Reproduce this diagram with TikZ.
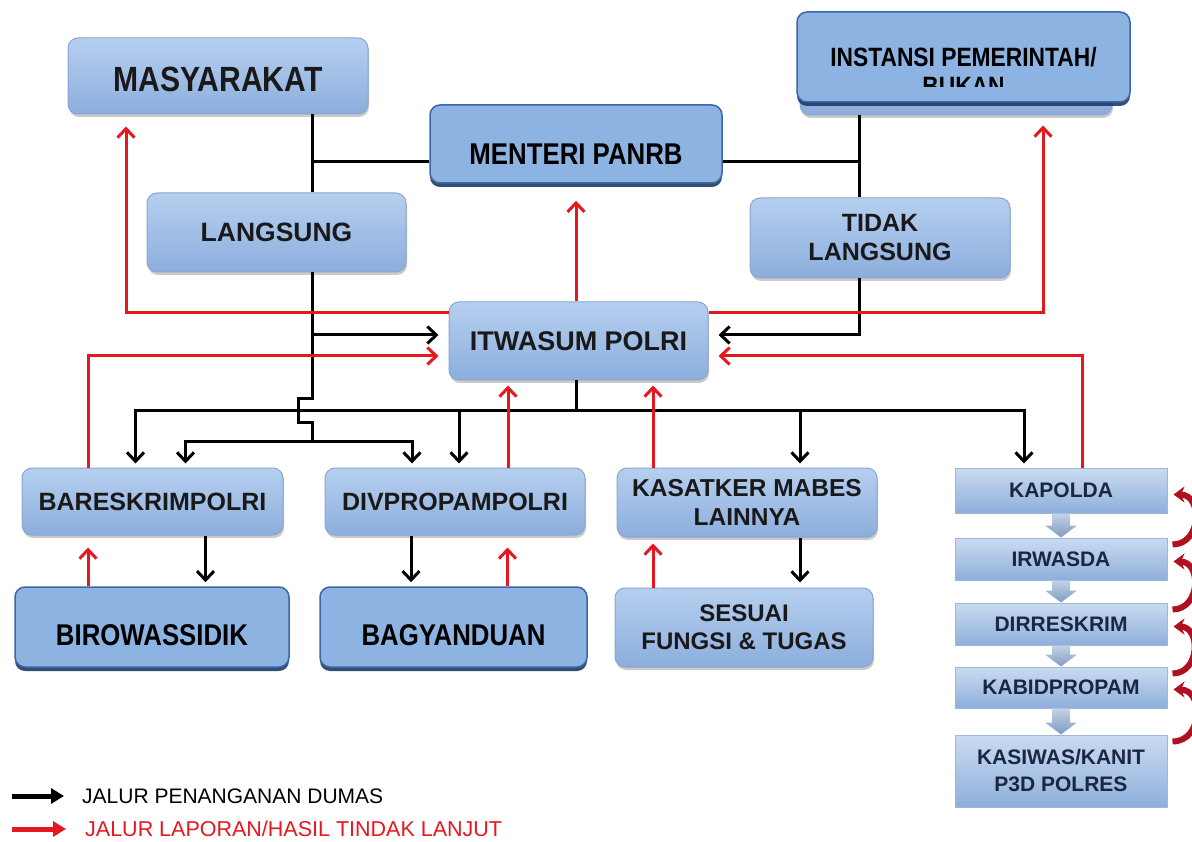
\documentclass[tikz,border=0pt]{standalone}
\usepackage{fontspec}
\setmainfont{Liberation Sans}
\newfontfamily\narrowfont[FakeStretch=0.86]{Liberation Sans}
\usetikzlibrary{arrows.meta,shapes,positioning,calc,shadows}

\definecolor{bevtop}{HTML}{B6CFEF}
\definecolor{bevbot}{HTML}{8CAEDD}
\definecolor{bevedge}{HTML}{8AA6CF}
\definecolor{narfill}{HTML}{8DB3E2}
\definecolor{naredge}{HTML}{3A67A6}
\definecolor{narshadow}{HTML}{1E3A64}
\definecolor{coltop}{HTML}{CADBF1}
\definecolor{colbot}{HTML}{8EAFDB}
\definecolor{coledge}{HTML}{9FB7D8}
\definecolor{coltext}{HTML}{1A2740}
\definecolor{blocktop}{HTML}{C3D2E6}
\definecolor{blockbot}{HTML}{7F9BC2}
\definecolor{lred}{HTML}{E5171F}
\definecolor{dred}{HTML}{B01020}

\begin{document}
\begin{tikzpicture}[x=1pt, y=-1pt, >={Straight Barb[length=9pt,width=17pt]},
  every text node part/.style={align=center},
  bevel/.style={rectangle, rounded corners=10pt, top color=bevtop, bottom color=bevbot, draw=bevedge, line width=1pt, inner sep=0pt, text=black!90, font=\bfseries\fontsize{25}{29}\selectfont, drop shadow={shadow xshift=1pt, shadow yshift=-3pt, opacity=.35, fill=black!60}},
  narrow/.style={rectangle, rounded corners=10pt, fill=narfill, draw=naredge, line width=1.5pt, inner sep=0pt, text depth=0pt, font=\narrowfont\bfseries\fontsize{30}{34}\selectfont, drop shadow={shadow xshift=0pt, shadow yshift=-4pt, opacity=.9, fill=narshadow}},
  colbox/.style={rectangle, minimum width=212pt, top color=coltop, bottom color=colbot, draw=coledge, line width=1pt, inner sep=0pt, text=coltext, font=\bfseries\fontsize{21}{27}\selectfont},
  blk/.style={draw=black, line width=3pt},
  rd/.style={draw=lred, line width=3pt},
  curvy/.style={draw=dred, line width=6pt, -{Stealth[length=11pt,width=16pt]}},
  blockarr/.style={top color=blocktop, bottom color=blockbot, draw=none}]
\useasboundingbox (0,0) rectangle (1192,842);
\clip (0,0) rectangle (1192,842);
\draw
  node at (218,76)[bevel, minimum width=300pt, minimum height=76pt, text depth=0pt, text height=31pt, font=\narrowfont\bfseries\fontsize{35}{38}\selectfont](mas){MASYARAKAT}
  node at (576,144)[narrow, minimum width=292pt, minimum height=78pt, text height=41pt](men){MENTERI PANRB}
  node at (956,70)[bevel, minimum width=312pt, minimum height=90pt](instb){}
  node at (963.5,57)[narrow, minimum width=333pt, minimum height=90pt](inst){}
  node at (276.5,232.5)[bevel, minimum width=259pt, minimum height=79pt, font=\bfseries\fontsize{26.5}{30}\selectfont](lang){LANGSUNG}
  node at (880,238)[bevel, minimum width=260pt, minimum height=80pt](tid){TIDAK\\LANGSUNG}
  node at (578.5,341)[bevel, minimum width=259pt, minimum height=78pt, font=\bfseries\fontsize{27}{30}\selectfont](itw){ITWASUM POLRI}
  node at (152.5,501.5)[bevel, minimum width=261pt, minimum height=67pt](bar){BARESKRIMPOLRI}
  node at (455,501.5)[bevel, minimum width=260pt, minimum height=67pt](div){DIVPROPAMPOLRI}
  node at (747,502.5)[bevel, minimum width=260pt, minimum height=69pt, font=\bfseries\fontsize{24.5}{29}\selectfont](kas){KASATKER MABES\\LAINNYA}
  node at (152,627)[narrow, minimum width=274pt, minimum height=80pt, text height=37pt](biro){BIROWASSIDIK}
  node at (453.5,627)[narrow, minimum width=267pt, minimum height=80pt, text height=37pt](bag){BAGYANDUAN}
  node at (744,627.5)[bevel, minimum width=258pt, minimum height=79pt, font=\bfseries\fontsize{24}{28}\selectfont](ses){SESUAI\\FUNGSI \& TUGAS}
  node at (1061,490.5)[colbox, minimum height=45pt](kap){KAPOLDA}
  node at (1061,559)[colbox, minimum height=42pt](irw){IRWASDA}
  node at (1061,624)[colbox, minimum height=42pt](dir){DIRRESKRIM}
  node at (1061,687.5)[colbox, minimum height=41pt](kab){KABIDPROPAM}
  node at (1061,771)[colbox, minimum height=72pt](kasi){KASIWAS/KANIT\\P3D POLRES}
  node at (82,796)[anchor=west, inner sep=0pt, font=\fontsize{21}{24}\selectfont](lgbtxt){JALUR PENANGANAN DUMAS}
  node at (85,829)[anchor=west, inner sep=0pt, text=lred, font=\fontsize{21.5}{24}\selectfont](lgrtxt){JALUR LAPORAN/HASIL TINDAK LANJUT};
\begin{scope}
  \clip (inst.north west) rectangle ([yshift=16pt]inst.south east);
  \node[font=\narrowfont\bfseries\fontsize{26.5}{29}\selectfont] (insttxt) at (963.5,72) {INSTANSI PEMERINTAH/\\BUKAN};
\end{scope}
\coordinate (jl) at (312,162);
\coordinate (jr) at (859,162);
\coordinate (jm) at (576,410);
\coordinate (jb) at (312,441);
\coordinate (lgb1) at (12,796);
\coordinate (lgb2) at (64,796);
\coordinate (lgr1) at (12,829);
\coordinate (lgr2) at (66,829);
% jalur penanganan
\draw[blk] (mas.south -| jl) -- (lang.north -| jl);
\draw[blk] (jl) -- (jl -| men.west);
\draw[blk] (jr -| men.east) -- (jr);
\draw[blk] (instb.south -| jr) -- (tid.north -| jr);
\draw[blk] (lang.south -| jl) -- ++(0,126) -- ++(-14,0) -- ++(0,24) -- ++(14,0) -- (jb);
\draw[blk,->,shorten >=10pt] ([yshift=6pt]itw.west -| jl) -- ([yshift=6pt]itw.west);
\draw[blk,->,shorten >=10pt] (tid.south -| jr) |- ([yshift=6pt]itw.east);
\draw[blk,->,shorten >=4pt] (jb) -| ([xshift=33pt]bar.north);
\draw[blk,->,shorten >=4pt] (jb) -| ([xshift=-43pt]div.north);
\draw[blk] (itw.south -| jm) -- (jm);
\draw[blk,->,shorten >=4pt] (jm) -| ([xshift=-17pt]bar.north);
\draw[blk,->,shorten >=4pt] (jm) -| ([xshift=4pt]div.north);
\draw[blk,->,shorten >=4pt] (jm) -| ([xshift=53pt]kas.north);
\draw[blk,->,shorten >=4pt] (jm) -| ([xshift=-37pt]kap.north);
\draw[blk,->,shorten >=4pt] ([xshift=53pt]bar.south) -- ([xshift=53pt]bar.south |- biro.north);
\draw[blk,->,shorten >=4pt] ([xshift=-44pt]div.south) -- ([xshift=-44pt]div.south |- bag.north);
\draw[blk,->,shorten >=5pt] ([xshift=53pt]kas.south) -- ([xshift=53pt]kas.south |- ses.north);
% jalur laporan
\draw[rd,->,shorten >=12pt] ([yshift=28pt]itw.west) -| ([xshift=-92pt]mas.south);
\draw[rd,->,shorten >=10pt] ([yshift=28pt]itw.east) -| ([xshift=87pt]instb.south);
\draw[rd,->,shorten >=17pt] (itw.north -| men.south) -- (men.south);
\draw[rd,->,shorten >=10pt] ([xshift=-64pt]bar.north) |- ([yshift=-15pt]itw.west);
\draw[rd,->,shorten >=10pt] ([xshift=21pt]kap.north) |- ([yshift=-15pt]itw.east);
\draw[rd,->,shorten >=5pt] ([xshift=53pt]div.north) -- ([xshift=53pt]div.north |- itw.south);
\draw[rd,->,shorten >=5pt] ([xshift=-94pt]kas.north) -- ([xshift=-94pt]kas.north |- itw.south);
\draw[rd,->,shorten >=12pt] ([xshift=-64pt]biro.north) -- ([xshift=-64pt]biro.north |- bar.south);
\draw[rd,->,shorten >=12pt] ([xshift=54pt]bag.north) -- ([xshift=54pt]bag.north |- div.south);
\draw[rd,->,shorten >=6pt] ([xshift=-91pt]ses.north) -- ([xshift=-91pt]ses.north |- kas.south);
% kolom polda
\foreach \a/\b in {kap/irw, irw/dir, dir/kab, kab/kasi}
  \shade[blockarr] ($(\a.south)+(-9,0)$) -- ($(\a.south)+(9,0)$) -- ($(\b.north)+(9,-12)$) -- ($(\b.north)+(16,-12)$) -- (\b.north) -- ($(\b.north)+(-16,-12)$) -- ($(\b.north)+(-9,-12)$) -- cycle;
\foreach \a/\b in {irw/kap, dir/irw, kab/dir, kasi/kab}
  \draw[curvy] ([xshift=5pt,yshift=-7pt]\a.north east) to[out=0, in=0, looseness=1.5] ([xshift=6pt,yshift=19pt]\b.south east);
% legenda
\draw[line width=5pt, -{Triangle[length=13pt,width=15pt]}] (lgb1) -- (lgb2);
\draw[lred, line width=5pt, -{Triangle[length=13pt,width=15pt]}] (lgr1) -- (lgr2);
\end{tikzpicture}
\end{document}
